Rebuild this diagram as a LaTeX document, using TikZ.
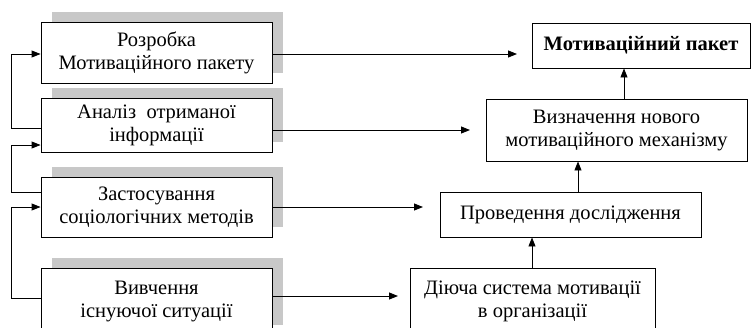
\documentclass[tikz,border=0pt]{standalone}
\usepackage{fontspec}
\setmainfont{Liberation Serif}
\usetikzlibrary{arrows.meta,shadows}
\definecolor{shadowgray}{RGB}{200,200,200}
\begin{document}
\begin{tikzpicture}[x=1pt,y=-1pt,
  font=\fontsize{20.5}{23}\selectfont,
  box/.style={draw=black, line width=0.9pt, fill=white, align=center, inner sep=0pt},
  lbox/.style={box, minimum width=231pt,
    drop shadow={shadow xshift=11pt, shadow yshift=10pt, opacity=1, fill=shadowgray}},
  conn/.style={line width=0.9pt},
  arr/.style={conn, -{Triangle[length=9pt,width=7pt]}}]
\useasboundingbox (0,0) rectangle (752,327);
\clip (0,0) rectangle (752,327);
% left boxes
\node[lbox, minimum height=61pt] (b1) at (156.5,52.5) {Розробка\\Мотиваційного пакету};
\node[lbox, minimum height=54pt] (b2) at (156.5,125) {Аналіз\ \ отриманої\\інформації};
\node[lbox, minimum height=60pt] (b3) at (156.5,207) {Застосування\\соціологічних методів};
\node[lbox, minimum height=67pt] (b4) at (156.5,301.5) {Вивчення\\існуючої ситуації};
% right boxes
\node[box, minimum width=218pt, minimum height=45pt] (m) at (641,45.5) {\bfseries Мотиваційний пакет};
\node[box, minimum width=261pt, minimum height=62pt] (v) at (616.5,130) {Визначення нового\\мотиваційного механізму};
\node[box, minimum width=261pt, minimum height=45pt] (p) at (570.5,214.5) {Проведення дослідження};
\node[box, minimum width=245pt, minimum height=67pt] (d) at (532.5,301.5) {Діюча система мотивації\\в організації};
% free ends
\coordinate (e1) at (517,54);
\coordinate (e2) at (470,130);
\coordinate (e3) at (423,207);
\coordinate (e4) at (398,296);
\draw[arr] (b1.east |- e1) -- (e1);
\draw[arr] (b2.east |- e2) -- (e2);
\draw[arr] (b3.east |- e3) -- (e3);
\draw[arr] (b4.east |- e4) -- (e4);
% vertical arrows
\draw[arr] (v.north -| 624,0) -- (m.south -| 624,0);
\draw[arr] (p.north -| 578,0) -- (v.south -| 578,0);
\draw[arr] (d.north -| 532,0) -- (p.south -| 532,0);
% feedback on the left
\draw[arr] (b2.west |- 0,128) -- (11,128) -- (11,54) -- (b1.west |- 0,54);
\draw[arr] (b3.west |- 0,192) -- (11,192) -- (11,145) -- (b2.west |- 0,145);
\draw[arr] (b4.west |- 0,298) -- (11,298) -- (11,207) -- (b3.west |- 0,207);
\end{tikzpicture}
\end{document}
